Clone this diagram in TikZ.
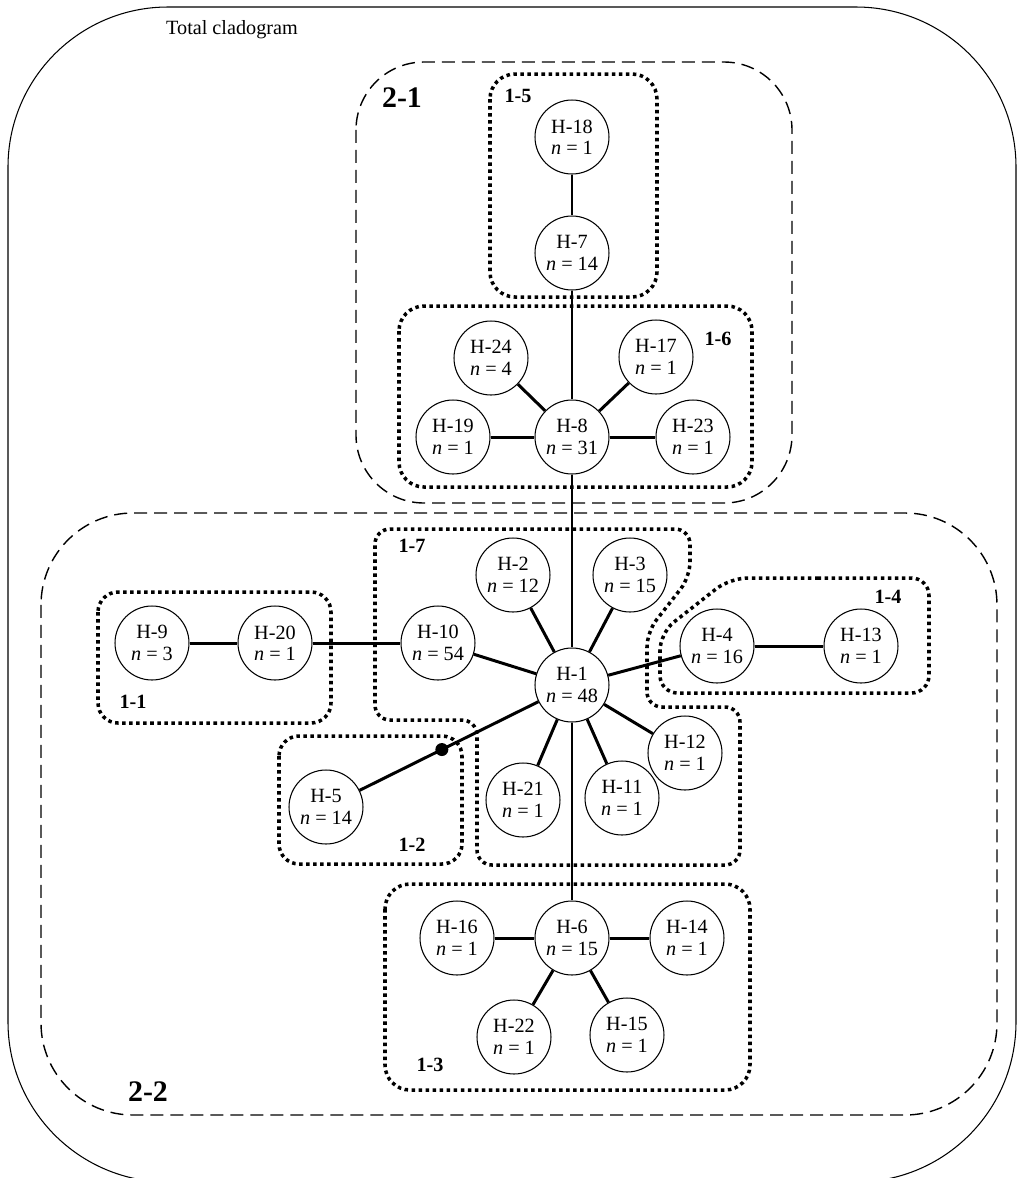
\documentclass[tikz,border=0pt]{standalone}
\usepackage{fontspec}
\setmainfont{Liberation Serif}

\begin{document}
\begin{tikzpicture}[x=0.02cm, y=-0.02cm,
  every node/.style={font=\fontsize{11.5}{12.2}\selectfont, align=center},
  hap/.style={draw, circle, line width=0.6pt, minimum size=1.48cm, inner sep=0pt, fill=white},
  edge/.style={line width=1.7pt},
  clade/.style={line width=2pt, dash pattern=on 2pt off 2pt, rounded corners=0.5cm},
  superclade/.style={line width=0.8pt, dash pattern=on 0.26cm off 0.14cm},
  cladelabel/.style={font=\fontsize{11.5}{12}\selectfont\bfseries},
  biglabel/.style={font=\fontsize{17}{18}\selectfont\bfseries}]
  \useasboundingbox (0,0) rectangle (1019,1178);
  \clip (0,0) rectangle (1019,1178);

  % total cladogram frame
  \draw[line width=0.6pt, rounded corners=3.2cm] (8,7) rectangle (1016,1182);
  \node[anchor=west] (total) at (160,30) {Total cladogram};

  % two-step clades
  \draw[superclade, rounded corners=1.36cm] (356,62) rectangle (792,503);
  \draw[superclade, rounded corners=1.84cm] (41,513) rectangle (997,1115);
  \node[biglabel] (lab21) at (402,98) {2-1};
  \node[biglabel] (lab22) at (148,1092) {2-2};

  % one-step clades
  \draw[clade] (490,74) rectangle (657,297);
  \draw[clade] (399,306) rectangle (752,487);
  \draw[clade, rounded corners=0.4cm] (98,592) rectangle (331,723);
  \draw[clade, rounded corners=0.4cm] (279,736) rectangle (462,864);
  \draw[clade] (385,884) rectangle (750,1090);
  \draw[clade, rounded corners=0.35cm] (800,578) -- (929,578) -- (929,693) -- (660,693) -- (660,633) -- (730,578) -- cycle;
  \draw[clade, rounded corners=0.3cm] (375,620) -- (375,529) -- (690,529) -- (690,577) -- (647,632) -- (647,707) -- (740,707) -- (740,865) -- (477,865) -- (477,720) -- (375,720) -- cycle;
  \node[cladelabel] (lab15) at (518,96) {1-5};
  \node[cladelabel] (lab16) at (718,339) {1-6};
  \node[cladelabel] (lab17) at (412,546) {1-7};
  \node[cladelabel] (lab14) at (888,597) {1-4};
  \node[cladelabel] (lab11) at (133,702) {1-1};
  \node[cladelabel] (lab12) at (412,845) {1-2};
  \node[cladelabel] (lab13) at (430,1065) {1-3};

  % haplotypes
  \node[hap] (h18) at (572,137) {H-18\\\textit{n} = 1};
  \node[hap] (h7) at (572,253) {H-7\\\textit{n} = 14};
  \node[hap] (h24) at (491,358) {H-24\\\textit{n} = 4};
  \node[hap] (h17) at (656,357) {H-17\\\textit{n} = 1};
  \node[hap] (h19) at (453,437) {H-19\\\textit{n} = 1};
  \node[hap] (h8) at (572,437) {H-8\\\textit{n} = 31};
  \node[hap] (h23) at (693,437) {H-23\\\textit{n} = 1};
  \node[hap] (h2) at (513,575) {H-2\\\textit{n} = 12};
  \node[hap] (h3) at (630,575) {H-3\\\textit{n} = 15};
  \node[hap] (h9) at (152,643) {H-9\\\textit{n} = 3};
  \node[hap] (h20) at (275,643) {H-20\\\textit{n} = 1};
  \node[hap] (h10) at (438,643) {H-10\\\textit{n} = 54};
  \node[hap] (h1) at (572,685) {H-1\\\textit{n} = 48};
  \node[hap] (h4) at (717,646) {H-4\\\textit{n} = 16};
  \node[hap] (h13) at (861,646) {H-13\\\textit{n} = 1};
  \node[hap] (h12) at (685,753) {H-12\\\textit{n} = 1};
  \node[hap] (h11) at (622,798) {H-11\\\textit{n} = 1};
  \node[hap] (h21) at (523,800) {H-21\\\textit{n} = 1};
  \node[hap] (h5) at (326,807) {H-5\\\textit{n} = 14};
  \node[hap] (h16) at (457,938) {H-16\\\textit{n} = 1};
  \node[hap] (h6) at (572,938) {H-6\\\textit{n} = 15};
  \node[hap] (h14) at (687,938) {H-14\\\textit{n} = 1};
  \node[hap] (h22) at (514,1037) {H-22\\\textit{n} = 1};
  \node[hap] (h15) at (627,1035) {H-15\\\textit{n} = 1};

  % mutational steps
  \draw[edge] (h18) -- (h7);
  \draw[edge] (h7) -- (h8);
  \draw[edge] (h8) -- (h24);
  \draw[edge] (h8) -- (h17);
  \draw[edge] (h8) -- (h19);
  \draw[edge] (h8) -- (h23);
  \draw[edge] (h8) -- (h1);
  \draw[edge] (h1) -- (h2);
  \draw[edge] (h1) -- (h3);
  \draw[edge] (h1) -- (h10);
  \draw[edge] (h10) -- (h20);
  \draw[edge] (h20) -- (h9);
  \draw[edge] (h1) -- (h4);
  \draw[edge] (h4) -- (h13);
  \draw[edge] (h1) -- (h12);
  \draw[edge] (h1) -- (h11);
  \draw[edge] (h1) -- (h21);
  \draw[edge] (h1) -- node[pos=0.54, circle, fill, inner sep=0pt, minimum size=0.26cm] (missing) {} (h5);
  \draw[edge] (h1) -- (h6);
  \draw[edge] (h6) -- (h16);
  \draw[edge] (h6) -- (h14);
  \draw[edge] (h6) -- (h22);
  \draw[edge] (h6) -- (h15);
\end{tikzpicture}
\end{document}
